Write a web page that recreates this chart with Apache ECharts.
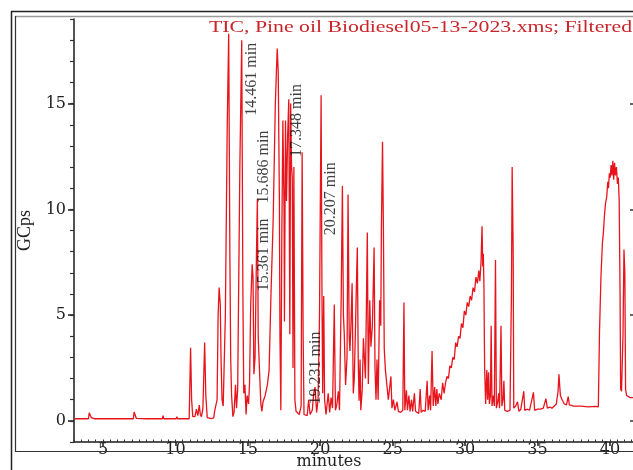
<!DOCTYPE html>
<html>
<head>
<meta charset="utf-8">
<script src="https://cdn.jsdelivr.net/npm/echarts@6/dist/echarts.min.js"></script>
<style>
html,body{margin:0;padding:0;overflow:hidden;background:#fff;}
#c{width:640px;height:470px;}
</style>
</head>
<body>
<div id="c"></div>
<script>
// ---------- data ----------
const titleText = 'TIC, Pine oil Biodiesel05-13-2023.xms; Filtered';
const xAxisTitle = 'minutes';
const xTickValues = [5, 10, 15, 20, 25, 30, 35, 40];
const yTickValues = [0, 5, 10, 15];
const peakLabels = ['14.461 min', '17.348 min', '15.686 min', '15.361 min', '20.207 min', '19.231 min'];
// [minutes, GCps]
const tracePoints = [
[3.0,0.1],[4.0,0.1],[4.05,0.38],[4.15,0.35],[4.2,0.15],[4.3,0.22],[4.4,0.1],[7.1,0.1],[7.15,0.42],[7.25,0.4],[7.3,0.12],
[8.0,0.1],[8.05,0.15],[8.1,0.1],[9.1,0.1],[9.15,0.25],[9.2,0.1],[10.05,0.1],[10.1,0.2],[10.15,0.1],[10.95,0.1],
[11.05,3.45],[11.12,1.0],[11.2,0.2],[11.35,0.2],[11.45,0.55],[11.55,0.25],[11.65,0.75],[11.72,0.3],[11.8,0.2],[11.9,0.6],
[12.02,3.7],[12.1,1.2],[12.2,0.15],[12.5,0.1],[12.65,0.15],[12.72,0.5],[12.8,0.55],[12.88,1.0],[12.95,5.0],[13.02,6.3],
[13.1,5.5],[13.15,3.0],[13.22,1.0],[13.3,0.7],[13.45,5.0],[13.58,14.0],[13.68,18.3],[13.76,8.0],[13.82,2.9],[13.88,1.2],
[13.97,0.2],[14.05,0.4],[14.15,1.7],[14.22,0.6],[14.3,1.5],[14.45,12],[14.58,18.0],[14.66,6.0],[14.72,1.3],[14.8,1.7],
[14.88,0.3],[14.95,1.2],[15.05,0.8],[15.12,1.8],[15.2,5.5],[15.3,7.4],[15.36,6.8],[15.42,2.2],[15.5,3.0],[15.6,8.0],
[15.66,10.5],[15.72,4.0],[15.8,2.5],[15.9,0.8],[15.97,0.45],[16.05,0.9],[16.2,1.2],[16.35,1.7],[16.47,2.4],[16.6,6.0],
[16.75,9.5],[16.9,15.0],[17.03,17.6],[17.1,16.5],[17.18,10.4],[17.22,4.0],[17.28,0.5],[17.35,9.0],[17.42,14.2],[17.5,10.0],
[17.53,4.7],[17.6,14.2],[17.67,10.4],[17.75,13.5],[17.83,15.2],[17.9,4.1],[17.96,15.0],[18.02,12.0],[18.07,11.5],[18.12,2.5],
[18.18,12.0],[18.25,1.0],[18.33,0.45],[18.45,0.5],[18.55,0.3],[18.68,0.7],[18.75,12.7],[18.82,4.0],[18.88,0.3],[19.0,0.35],
[19.1,0.25],[19.2,1.0],[19.3,0.3],[19.45,0.5],[19.55,1.3],[19.64,1.6],[19.75,0.4],[19.85,1.0],[19.95,5.0],[20.06,15.4],
[20.12,6.0],[20.17,1.3],[20.24,5.9],[20.3,1.0],[20.4,0.3],[20.55,1.3],[20.65,0.4],[20.75,1.1],[20.85,0.6],[20.97,5.5],
[21.05,0.5],[21.15,0.8],[21.25,1.4],[21.33,0.5],[21.45,6.0],[21.53,11.1],[21.6,5.0],[21.66,4.1],[21.75,1.7],[21.85,3.0],
[21.92,10.7],[22.0,4.0],[22.05,3.3],[22.12,4.5],[22.2,6.5],[22.28,1.3],[22.35,2.0],[22.42,4.0],[22.5,6.5],[22.56,8.2],
[22.62,3.0],[22.68,0.95],[22.75,2.9],[22.8,0.5],[22.9,1.5],[22.98,3.9],[23.05,3.9],[23.12,2.0],[23.18,5.0],[23.25,8.9],
[23.32,1.74],[23.42,5.7],[23.5,3.5],[23.6,4.5],[23.72,8.2],[23.78,2.5],[23.85,1.0],[23.92,2.9],[24.0,1.0],[24.1,5.7],
[24.18,4.5],[24.22,9.0],[24.3,13.2],[24.36,9.2],[24.42,3.4],[24.5,2.4],[24.6,1.7],[24.7,1.0],[24.8,0.95],[24.88,2.1],
[24.95,0.6],[25.05,1.0],[25.15,0.5],[25.3,0.9],[25.4,0.45],[25.55,0.4],[25.7,0.5],[25.78,5.6],[25.84,0.5],[25.95,1.45],
[26.02,0.5],[26.12,1.2],[26.2,0.45],[26.3,1.0],[26.38,0.45],[26.5,1.3],[26.58,0.45],[26.7,0.4],[26.8,0.35],[26.9,1.5],
[26.97,0.4],[27.1,0.5],[27.25,0.45],[27.38,1.9],[27.45,0.5],[27.55,1.2],[27.62,0.5],[27.72,3.3],[27.8,0.7],[27.9,1.6],
[27.98,0.7],[28.05,1.5],[28.12,0.8],[28.22,1.3],[28.35,1.0],[28.45,1.8],[28.55,1.3],[28.65,1.8],[28.75,2.1],[28.85,2.0],
[28.95,2.6],[29.05,2.5],[29.15,3.0],[29.25,2.9],[29.35,3.7],[29.45,3.5],[29.55,4.0],[29.65,3.9],[29.75,4.6],[29.85,4.4],
[29.95,5.2],[30.05,5.0],[30.15,5.6],[30.25,5.4],[30.35,5.9],[30.45,5.7],[30.55,6.3],[30.65,6.1],[30.75,6.8],[30.85,6.5],
[30.95,7.1],[31.02,6.6],[31.1,7.5],[31.17,9.2],[31.22,7.3],[31.26,7.9],[31.3,6.5],[31.35,2.5],[31.42,0.8],[31.5,2.4],
[31.56,1.0],[31.62,2.3],[31.68,0.8],[31.75,1.2],[31.8,4.5],[31.86,0.7],[31.95,1.2],[32.02,0.7],[32.1,7.6],[32.16,0.6],
[32.25,0.9],[32.32,1.3],[32.38,0.6],[32.48,4.5],[32.54,0.7],[32.62,1.0],[32.68,1.9],[32.74,0.5],[32.9,0.45],[33.1,0.5],
[33.2,6.0],[33.25,12.0],[33.32,8.0],[33.36,0.6],[33.5,0.7],[33.62,0.9],[33.72,0.45],[33.85,0.55],[33.95,0.5],[34.05,1.4],
[34.12,0.5],[34.3,0.55],[34.45,0.5],[34.55,0.55],[34.72,1.35],[34.8,0.5],[35.0,0.55],[35.2,0.55],[35.4,0.6],[35.58,1.05],
[35.68,0.6],[35.85,0.65],[36.0,0.6],[36.3,0.8],[36.42,1.4],[36.48,2.2],[36.58,1.2],[36.7,1.0],[36.85,0.8],[37.0,0.75],
[37.12,1.15],[37.2,0.75],[37.5,0.7],[38.0,0.7],[38.5,0.66],[39.0,0.68],[39.2,0.66],[39.28,4.2],[39.38,6.8],[39.48,8.4],
[39.55,8.9],[39.62,9.7],[39.7,10.3],[39.78,10.6],[39.85,11.3],[39.9,11.0],[39.96,11.7],[40.02,11.5],[40.08,12.1],[40.14,11.6],
[40.2,12.3],[40.26,11.4],[40.32,12.2],[40.38,11.6],[40.45,12.0],[40.52,11.2],[40.58,11.5],[40.64,10.4],[40.7,6.0],[40.74,1.5],
[40.8,1.4],[40.9,4.0],[40.97,8.1],[41.03,7.0],[41.08,1.5],[41.15,1.2],[41.4,1.1],[41.8,1.1]
];

// ---------- layout ----------
const peakLabelAnchors = [[15.26,16.15],[18.40,14.2],[16.12,12.0],[16.12,7.85],[20.75,10.5],[19.68,2.5]];
const serif = "'Liberation Serif', 'Times New Roman', serif";
const wideSerif = "'DejaVu Serif', serif";
const axisColor = '#1a1a1a';

const chart = echarts.init(document.getElementById('c'), null, {renderer: 'canvas'});
const frameLine = (x1, y1, x2, y2, color, w) => ({
  type: 'line', silent: true, z: 100,
  shape: {x1, y1, x2, y2},
  style: {stroke: color, lineWidth: w}
});

chart.setOption({
  animation: false,
  backgroundColor: '#fff',
  graphic: [
    frameLine(11, 11.5, 640, 11.5, '#222', 1.5),
    frameLine(11.5, 11, 11.5, 470, '#222', 1.5),
    frameLine(15, 16.5, 640, 16.5, '#9a9a9a', 1.5),
    frameLine(15.5, 16, 15.5, 452, '#333', 1.2),
    frameLine(15, 451.5, 640, 451.5, '#333', 1.2),
    {
      type: 'text', silent: true, z: 100,
      x: 209, y: 28, scaleX: 1.36, scaleY: 1, originX: 0, originY: 0,
      style: {
        text: titleText, fill: '#c8262b',
        font: "16px 'Liberation Serif', serif",
        verticalAlign: 'middle', align: 'left'
      }
    },
    {
      type: 'text', silent: true, z: 100,
      x: 329, y: 462,
      style: {
        text: xAxisTitle, fill: '#222',
        font: "16px 'DejaVu Serif', serif",
        verticalAlign: 'middle', align: 'center'
      }
    }
  ],
  grid: {left: 74, right: 4, top: 19, bottom: 28, containLabel: false},
  xAxis: [
    {
      type: 'value', min: 3, max: 41.8,
      axisLine: {show: true, onZero: false, lineStyle: {color: axisColor, width: 1.5}},
      axisTick: {show: true, length: 4, customValues: xTickValues, lineStyle: {color: axisColor, width: 1.5}},
      axisLabel: {customValues: xTickValues, color: '#222', fontFamily: wideSerif, fontSize: 16, margin: 0},
      splitLine: {show: false}
    },
    {
      type: 'value', min: 3, max: 41.8, interval: 0.5, position: 'bottom',
      axisLine: {show: false, onZero: false},
      axisTick: {show: true, inside: true, length: 2.5, lineStyle: {color: '#333', width: 1}},
      axisLabel: {show: false}, splitLine: {show: false}
    }
  ],
  yAxis: [
    {
      type: 'value', min: -1, max: 19, position: 'left',
      axisLine: {show: true, onZero: false, lineStyle: {color: axisColor, width: 1.5}},
      axisTick: {show: true, length: 6, customValues: yTickValues, lineStyle: {color: axisColor, width: 1.5}},
      axisLabel: {customValues: yTickValues, color: '#222', fontFamily: wideSerif, fontSize: 16, margin: 8},
      splitLine: {show: false},
      name: 'GCps', nameLocation: 'middle', nameGap: 40, nameRotate: 90,
      nameTextStyle: {color: '#222', fontFamily: serif, fontSize: 18}
    },
    {
      type: 'value', min: -1, max: 19, interval: 1, position: 'left',
      axisLine: {show: false, onZero: false},
      axisTick: {show: true, length: 4, lineStyle: {color: '#333', width: 1.2}},
      axisLabel: {show: false}, splitLine: {show: false}
    },
    {
      type: 'value', min: -1, max: 19, position: 'right',
      axisLine: {show: false, onZero: false},
      axisTick: {show: true, inside: true, length: 6, customValues: yTickValues, lineStyle: {color: '#333', width: 1.5}},
      axisLabel: {show: false}, splitLine: {show: false}
    }
  ],
  series: [
    {
      type: 'line', xAxisIndex: 0, yAxisIndex: 0,
      data: tracePoints, showSymbol: false, symbol: 'none',
      lineStyle: {color: '#e8141c', width: 1.3},
      clip: true, z: 5
    },
    {
      type: 'scatter', xAxisIndex: 0, yAxisIndex: 0,
      data: peakLabels.map((s, i) => ({name: s, value: peakLabelAnchors[i]})),
      symbolSize: 1, itemStyle: {color: 'rgba(0,0,0,0)'}, z: 10,
      label: {
        show: true, position: 'inside', rotate: 90, formatter: p => p.name,
        color: '#111', fontFamily: serif, fontSize: 16
      }
    }
  ]
});
</script>
</body>
</html>
